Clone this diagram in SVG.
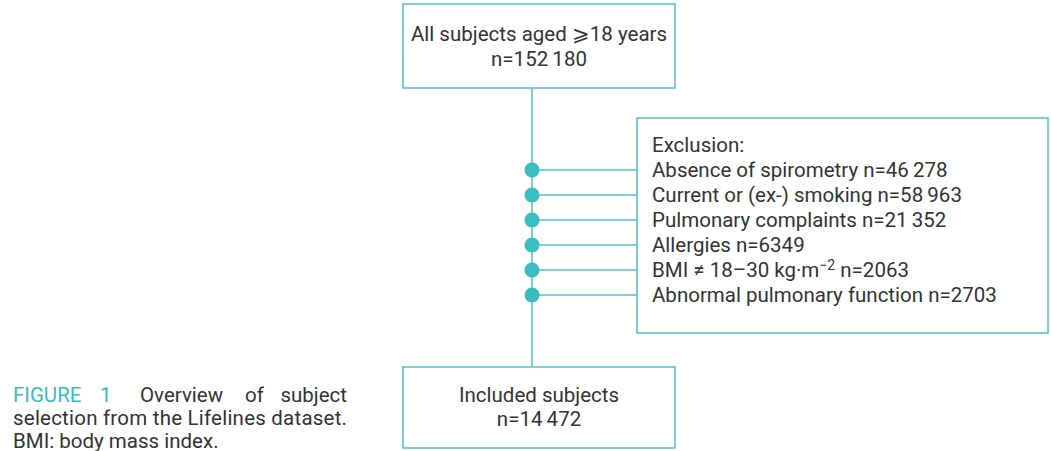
<svg xmlns="http://www.w3.org/2000/svg" width="1051" height="451" viewBox="0 0 1051 451">
<style>
.box{fill:#fff;stroke:#4cc3c7;stroke-width:1.5}
.ln{stroke:#4cc3c7;stroke-width:1.5;fill:none}
.dot{fill:#3bbcc1}
text{font-family:Roboto,"Liberation Sans",sans-serif;font-size:20.5px;fill:#333}
.c{text-anchor:middle}
.t{fill:#3bbcc1}
</style>
<rect width="1051" height="451" fill="#fff"/>
<g id="connectors">
<line class="ln" x1="532" y1="88" x2="532" y2="367"/>
<line class="ln" x1="532" y1="170" x2="637" y2="170"/>
<line class="ln" x1="532" y1="195" x2="637" y2="195"/>
<line class="ln" x1="532" y1="220" x2="637" y2="220"/>
<line class="ln" x1="532" y1="245" x2="637" y2="245"/>
<line class="ln" x1="532" y1="270" x2="637" y2="270"/>
<line class="ln" x1="532" y1="295" x2="637" y2="295"/>
<circle class="dot" cx="532" cy="170" r="7.5"/>
<circle class="dot" cx="532" cy="195" r="7.5"/>
<circle class="dot" cx="532" cy="220" r="7.5"/>
<circle class="dot" cx="532" cy="245" r="7.5"/>
<circle class="dot" cx="532" cy="270" r="7.5"/>
<circle class="dot" cx="532" cy="295" r="7.5"/>
</g>
<g id="top">
<rect class="box" x="403" y="4" width="272" height="84"/>
<text class="c" x="539" y="41">All subjects aged ⩾18 years</text>
<text class="c" x="539" y="66">n=152&#8201;180</text>
</g>
<g id="exclusion">
<rect class="box" x="637" y="118" width="411" height="215"/>
<text x="652" y="152">Exclusion:</text>
<text x="652" y="177">Absence of spirometry n=46&#8201;278</text>
<text x="652" y="202">Current or (ex-) smoking n=58&#8201;963</text>
<text x="652" y="227">Pulmonary complaints n=21&#8201;352</text>
<text x="652" y="252">Allergies n=6349</text>
<text x="652" y="277">BMI ≠ 18–30 kg·m<tspan dy="-7" font-size="14">−2</tspan><tspan dy="7"> n=2063</tspan></text>
<text x="652" y="302">Abnormal pulmonary function n=2703</text>
</g>
<g id="bottom">
<rect class="box" x="403" y="367" width="272" height="81"/>
<text class="c" x="539" y="402">Included subjects</text>
<text class="c" x="539" y="426">n=14&#8201;472</text>
</g>
<g id="caption">
<text y="402"><tspan class="t" x="13">FIGURE</tspan><tspan class="t" x="100">1</tspan><tspan x="140">Overview</tspan><tspan x="245">of</tspan><tspan x="347" text-anchor="end">subject</tspan></text>
<text x="13" y="425" textLength="334" lengthAdjust="spacing">selection from the Lifelines dataset.</text>
<text x="13" y="448">BMI: body mass index.</text>
</g>
</svg>
